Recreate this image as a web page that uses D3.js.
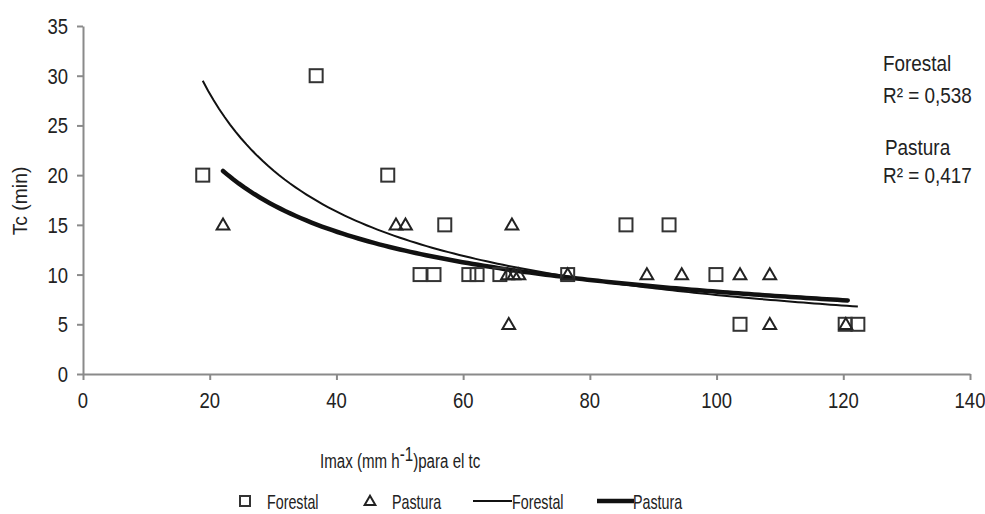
<!DOCTYPE html>
<html><head><meta charset="utf-8">
<script src="https://cdn.jsdelivr.net/npm/d3@7"></script>
<style>
body{margin:0;background:#fff;}
svg text{font-family:"Liberation Sans",Arial,sans-serif;fill:#222;}
</style></head>
<body><svg id="c" width="985" height="514"></svg>
<script>
// Forestal observations (Imax, Tc)
const forestalX = [18.9, 36.8, 48.1, 57.1, 53.2, 55.4, 60.9, 62.2, 65.8, 76.5, 85.7, 92.5, 99.9, 103.7, 120.3, 122.3];
const forestalY = [20, 30, 20, 15, 10, 10, 10, 10, 10, 10, 15, 15, 10, 5, 5, 5];
// Pastura observations
const pasturaX = [22.1, 49.4, 50.9, 67.7, 67.2, 67.0, 68.0, 68.8, 76.5, 89.0, 94.5, 103.7, 108.4, 108.4, 120.4];
const pasturaY = [15, 15, 15, 15, 5, 10, 10, 10, 10, 10, 10, 10, 10, 5, 5];
// power trendlines y = a * x^b: [a, b, xmin, xmax]
const trendForestal = [298, -0.787, 18.9, 122.3];
const trendPastura = [130, -0.598, 22.1, 120.7];
const xTicks = [0, 20, 40, 60, 80, 100, 120, 140];
const yTicks = [0, 5, 10, 15, 20, 25, 30, 35];
const r2Labels = ["Forestal", "R² = 0,538", "Pastura", "R² = 0,417"];

const svg = d3.select("#c");
const x = d3.scaleLinear().domain([0, 140]).range([83, 970]);
const y = d3.scaleLinear().domain([0, 35]).range([374, 26]);

// condensed text helper (font size, horizontal scale)
function ntext(parent, px, py, str, anchor, size, sx, rot) {
  const g = parent.append("g").attr("transform", `translate(${px},${py})` + (rot ? ` rotate(${rot})` : "") + ` scale(${sx},1)`);
  return g.append("text").attr("font-size", size).attr("text-anchor", anchor || "start").text(str);
}

// axes
const gx = svg.append("g").attr("transform", "translate(0,374)")
  .call(d3.axisBottom(x).tickValues(xTicks).tickSize(6).tickSizeOuter(0));
const gy = svg.append("g").attr("transform", "translate(83,0)")
  .call(d3.axisLeft(y).tickValues(yTicks).tickSize(6).tickSizeOuter(0));
[gx, gy].forEach(g => {
  g.selectAll("path,line").attr("stroke", "#8a8a8a").attr("stroke-width", 2);
  g.selectAll("text").remove();
});
xTicks.forEach(v => ntext(svg, x(v), 408, String(v), "middle", 22, 0.84));
yTicks.forEach(v => ntext(svg, 68, y(v) + 8, String(v), "end", 22, 0.84));

// trendlines
function trendPts(t) {
  const n = 120, pts = [];
  for (let i = 0; i <= n; i++) {
    const xv = t[2] + (t[3] - t[2]) * i / n;
    pts.push([xv, t[0] * Math.pow(xv, t[1])]);
  }
  return pts;
}
const line = d3.line().x(d => x(d[0])).y(d => y(d[1]));
svg.append("path").attr("d", line(trendPts(trendPastura)))
  .attr("fill", "none").attr("stroke", "#111").attr("stroke-width", 4.5).attr("stroke-linecap", "round");
svg.append("path").attr("d", line(trendPts(trendForestal)))
  .attr("fill", "none").attr("stroke", "#111").attr("stroke-width", 2);

// markers
const sq = 13;
svg.append("g").selectAll("rect").data(forestalX.map((v, i) => [v, forestalY[i]])).join("rect")
  .attr("x", d => x(d[0]) - sq / 2).attr("y", d => y(d[1]) - sq / 2)
  .attr("width", sq).attr("height", sq)
  .attr("fill", "none").attr("stroke", "#333").attr("stroke-width", 2);
const tri = d3.symbol().type(d3.symbolTriangle).size(70);
svg.append("g").selectAll("path").data(pasturaX.map((v, i) => [v, pasturaY[i]])).join("path")
  .attr("d", tri).attr("transform", d => `translate(${x(d[0])},${y(d[1]) + 1})`)
  .attr("fill", "none").attr("stroke", "#222").attr("stroke-width", 2);

// R2 annotations
const annY = [71, 103, 155, 183];
const annX = [883, 883, 885, 883];
r2Labels.forEach((t, i) => ntext(svg, annX[i], annY[i], t, "start", 22, 0.86));

// axis titles
ntext(svg, 27, 201, "Tc  (min)", "middle", 21, 0.92, -90);
const xt = ntext(svg, 320, 468, "", "start", 21, 0.72);
xt.append("tspan").text("Imax (mm h");
xt.append("tspan").attr("dy", -7).text("-1");
xt.append("tspan").attr("dy", 7).text(")para el tc");

// legend
const ly = 501, lfs = 21, lsx = 0.68;
svg.append("rect").attr("x", 240).attr("y", ly - 5).attr("width", 10).attr("height", 10)
  .attr("fill", "none").attr("stroke", "#333").attr("stroke-width", 2);
ntext(svg, 267, ly + 8, "Forestal", "start", lfs, lsx);
svg.append("path").attr("d", d3.symbol().type(d3.symbolTriangle).size(50))
  .attr("transform", `translate(370,${ly + 1})`).attr("fill", "none").attr("stroke", "#222").attr("stroke-width", 2);
ntext(svg, 392, ly + 8, "Pastura", "start", lfs, lsx);
svg.append("line").attr("x1", 473).attr("x2", 512).attr("y1", ly).attr("y2", ly)
  .attr("stroke", "#111").attr("stroke-width", 2);
ntext(svg, 512, ly + 8, "Forestal", "start", lfs, lsx);
svg.append("line").attr("x1", 597).attr("x2", 634).attr("y1", ly).attr("y2", ly)
  .attr("stroke", "#111").attr("stroke-width", 4.5);
ntext(svg, 633, ly + 8, "Pastura", "start", lfs, lsx);
</script></body></html>
